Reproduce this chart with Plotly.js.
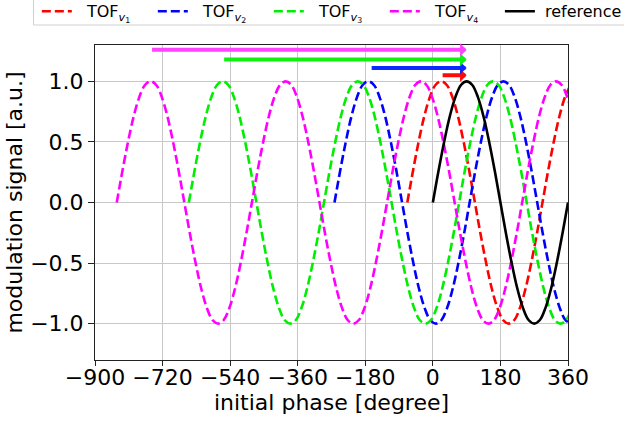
<!DOCTYPE html>
<html>
<head>
<meta charset="utf-8">
<script src="https://cdn.plot.ly/plotly-3.0.1.min.js"></script>
<style>
  html, body { margin: 0; padding: 0; background: #fff; }
  #chart { width: 624px; height: 423px; }
</style>
</head>
<body>
<div id="chart"></div>
<script>
// Reference modulation signal, every 15 degrees (0..360)
const phaseStep = 15;
const referenceSignal = [0, 0.26, 0.5, 0.71, 0.87, 0.97, 1.0, 0.97, 0.87, 0.71, 0.5, 0.26,
                         0, -0.26, -0.5, -0.71, -0.87, -0.97, -1.0, -0.97, -0.87, -0.71, -0.5, -0.26, 0];

const seriesNames = ['TOF<sub><i>v</i><sub>1</sub></sub>', 'TOF<sub><i>v</i><sub>2</sub></sub>',
                     'TOF<sub><i>v</i><sub>3</sub></sub>', 'TOF<sub><i>v</i><sub>4</sub></sub>'];
const referenceName = 'reference';
const seriesDelay = [68, 262, 650, 842];
const seriesColors = ['#ff0000', '#0000ff', '#00ee00', '#ff00ff'];

// Arrows: tail (peak of each TOF curve), head (peak of reference), height
const arrowStart = [22, -167, -560, -752];
const arrowEnd = [90, 90, 90, 90];
const arrowY = [1.05, 1.11, 1.18, 1.26];
const arrowColors = ['#ff0a0a', '#0a2aff', '#10f010', '#ff44ff'];

const xTicks = [-900, -720, -540, -360, -180, 0, 180, 360];
const yTicks = [-1.0, -0.5, 0.0, 0.5, 1.0];

const gap = '\u00a0\u00a0';
const period = referenceSignal.length - 1;
const traces = [];
seriesDelay.forEach((d, i) => {
  const xs = [], ys = [];
  for (let k = 0; -d + k * phaseStep <= 380; k++) {
    xs.push(-d + k * phaseStep);
    ys.push(referenceSignal[k % period]);
  }
  traces.push({
    x: xs, y: ys, type: 'scatter', mode: 'lines', name: gap + seriesNames[i], legend: 'legend',
    line: { color: seriesColors[i], width: 2.6, dash: '9px,4px', shape: 'spline' }
  });
});
traces.push({
  x: referenceSignal.map((_, k) => k * phaseStep), y: referenceSignal,
  type: 'scatter', mode: 'lines', name: '\u00a0' + referenceName, legend: 'legend2',
  line: { color: '#000000', width: 2.6, shape: 'spline' }
});

const annotations = arrowStart.map((s, i) => ({
  x: arrowEnd[i], y: arrowY[i], ax: s, ay: arrowY[i],
  xref: 'x', yref: 'y', axref: 'x', ayref: 'y',
  showarrow: true, arrowhead: 1, arrowsize: 0.55, arrowwidth: 4,
  arrowcolor: arrowColors[i], text: ''
}));

const font = { family: 'DejaVu Sans', size: 22, color: '#000' };
const legFont = { family: 'DejaVu Sans', size: 16, color: '#000' };
const legBase = {
  orientation: 'h', xanchor: 'left', y: 1.053, yanchor: 'bottom',
  bgcolor: 'rgba(0,0,0,0)', borderwidth: 0, font: legFont,
  entrywidth: 71, entrywidthmode: 'pixels', traceorder: 'normal'
};
const layout = {
  width: 624, height: 423,
  margin: { l: 95, r: 56, t: 45, b: 63, autoexpand: false },
  paper_bgcolor: '#fff', plot_bgcolor: '#fff',
  font: font,
  showlegend: true,
  legend: Object.assign({}, legBase, { x: -0.123 }),
  legend2: Object.assign({}, legBase, { x: 0.856, entrywidth: 95 }),
  shapes: [{
    type: 'rect', xref: 'paper', yref: 'paper', layer: 'below',
    x0: -0.13, x1: 1.25, y0: 1.0635, y1: 1.3,
    line: { color: '#d0d0d0', width: 1 }, fillcolor: '#fff'
  }],
  xaxis: {
    range: [-900, 360], tickvals: xTicks, ticktext: xTicks.map(v => v < 0 ? '\u2212' + Math.abs(v) : String(v)),
    showgrid: true, gridcolor: '#c8c8c8', gridwidth: 1, zeroline: false,
    showline: true, mirror: true, linecolor: '#222', linewidth: 1,
    ticks: 'outside', ticklen: 5, tickcolor: '#222', ticklabelstandoff: -7,
    tickfont: font,
    title: { text: 'initial phase [degree]', font: font, standoff: 2 }
  },
  yaxis: {
    range: [-1.3, 1.3], tickvals: yTicks, ticktext: yTicks.map(v => (v < 0 ? '\u2212' : '') + Math.abs(v).toFixed(1)),
    showgrid: true, gridcolor: '#c8c8c8', gridwidth: 1, zeroline: false,
    showline: true, mirror: true, linecolor: '#222', linewidth: 1,
    ticks: 'outside', ticklen: 6, tickcolor: '#222',
    tickfont: font,
    title: { text: 'modulation signal [a.u.]', font: font, standoff: 1 }
  },
  annotations: annotations
};

Plotly.newPlot('chart', traces, layout, { staticPlot: true, displayModeBar: false });
</script>
</body>
</html>
